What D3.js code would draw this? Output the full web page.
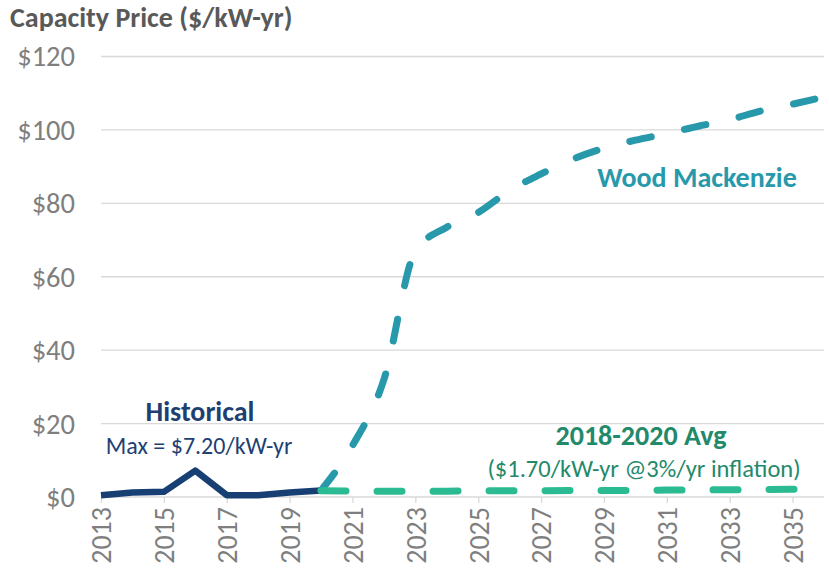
<!DOCTYPE html>
<html>
<head>
<meta charset="utf-8">
<script src="https://cdn.jsdelivr.net/npm/d3@7"></script>
<style>
  body { margin: 0; background: #fff; }
  svg { display: block; font-family: Carlito, Lato, "Open Sans", sans-serif; }
</style>
</head>
<body>
<div id="chart"></div>
<script>
// values
const histYears = [2013, 2014, 2015, 2016, 2017, 2018, 2019, 2020];
const histValues = [0.5, 1.2, 1.4, 7.2, 0.5, 0.5, 1.2, 1.8];

const woodYears = d3.range(2020, 2037);
const woodValues = [1.8, 14, 32, 67, 73.5, 77.5, 83.5, 88, 92, 95, 97.2, 99, 101, 102.8, 105.2, 107, 109];

const avgYears = d3.range(2020, 2037);
const avgValues = [1.7, 1.6, 1.6, 1.6, 1.6, 1.7, 1.7, 1.7, 1.8, 1.8, 1.8, 1.9, 1.9, 2.0, 2.0, 2.1, 2.1];

const yTicks = [0, 20, 40, 60, 80, 100, 120];
const xTicks = d3.range(2013, 2036, 2);

const width = 829, height = 572;
const margin = { top: 56.5, right: 5, bottom: 75, left: 101 };

const svg = d3.select('#chart').append('svg')
  .attr('width', width)
  .attr('height', height);

const x = d3.scaleLinear().domain([2013, 2036]).range([margin.left, 824]);
const y = d3.scaleLinear().domain([0, 120]).range([497, margin.top]);

// gridlines
svg.append('g')
  .selectAll('line')
  .data(yTicks.filter(d => d > 0))
  .join('line')
  .attr('x1', x(2013))
  .attr('x2', x(2036))
  .attr('y1', d => y(d))
  .attr('y2', d => y(d))
  .attr('stroke', '#d9d9d9')
  .attr('stroke-width', 1.3);

// y labels
svg.append('g')
  .selectAll('text')
  .data(yTicks)
  .join('text')
  .attr('x', 75)
  .attr('y', d => y(d))
  .attr('dy', '0.35em')
  .attr('text-anchor', 'end')
  .attr('fill', '#7f7f7f')
  .attr('font-size', 28.5)
  .text(d => '$' + d);

// x axis
const xAxis = svg.append('g')
  .attr('transform', 'translate(0,' + y(0) + ')')
  .call(d3.axisBottom(x).tickValues(xTicks).tickSize(6).tickFormat(d3.format('d')));
xAxis.select('.domain').attr('stroke', '#d9d9d9').attr('stroke-width', 1.3)
  .attr('d', 'M' + x(2013) + ',0H' + x(2036));
xAxis.selectAll('.tick line').attr('stroke', '#d9d9d9').attr('stroke-width', 1.3);
xAxis.selectAll('.tick text')
  .attr('fill', '#7f7f7f')
  .attr('font-size', 28)
  .attr('font-family', 'Carlito, Lato, "Open Sans", sans-serif')
  .attr('text-anchor', 'end')
  .attr('transform', 'rotate(-90)')
  .attr('x', -10)
  .attr('y', 0)
  .attr('dy', '0.35em');

// title
svg.append('text')
  .attr('x', 10)
  .attr('y', 27)
  .attr('fill', '#595959')
  .attr('font-size', 28)
  .attr('font-weight', 'bold')
  .text('Capacity Price ($/kW-yr)');

const line = d3.line().x(d => x(d[0])).y(d => y(d[1]));

// historical
svg.append('path')
  .datum(d3.zip(histYears, histValues))
  .attr('d', line)
  .attr('fill', 'none')
  .attr('stroke', '#173f73')
  .attr('stroke-width', 6.5)
  .attr('stroke-linejoin', 'round');

// wood mackenzie
svg.append('path')
  .datum(d3.zip(woodYears, woodValues))
  .attr('d', line.curve(d3.curveMonotoneX))
  .attr('fill', 'none')
  .attr('stroke', '#2899ab')
  .attr('stroke-width', 7)
  .attr('stroke-linecap', 'round')
  .attr('stroke-dasharray', '22,34');

// 2018-2020 avg
svg.append('path')
  .datum(d3.zip(avgYears, avgValues))
  .attr('d', d3.line().x(d => x(d[0])).y(d => y(d[1])))
  .attr('fill', 'none')
  .attr('stroke', '#2bbb92')
  .attr('stroke-width', 7)
  .attr('stroke-linecap', 'round')
  .attr('stroke-dasharray', '25,31');

// annotations
const notes = svg.append('g').attr('text-anchor', 'middle');
notes.append('text').attr('x', 200).attr('y', 421)
  .attr('fill', '#1f3f73').attr('font-size', 28).attr('font-weight', 'bold')
  .text('Historical');
notes.append('text').attr('x', 199).attr('y', 454)
  .attr('fill', '#1f3f73').attr('font-size', 24)
  .text('Max = $7.20/kW-yr');
notes.append('text').attr('x', 697).attr('y', 187)
  .attr('fill', '#2899ab').attr('font-size', 28).attr('font-weight', 'bold')
  .text('Wood Mackenzie');
notes.append('text').attr('x', 641).attr('y', 445)
  .attr('fill', '#23896b').attr('font-size', 28).attr('font-weight', 'bold')
  .text('2018-2020 Avg');
notes.append('text').attr('x', 644).attr('y', 477)
  .attr('fill', '#23896b').attr('font-size', 24.5)
  .text('($1.70/kW-yr @3%/yr inflation)');
</script>
</body>
</html>
